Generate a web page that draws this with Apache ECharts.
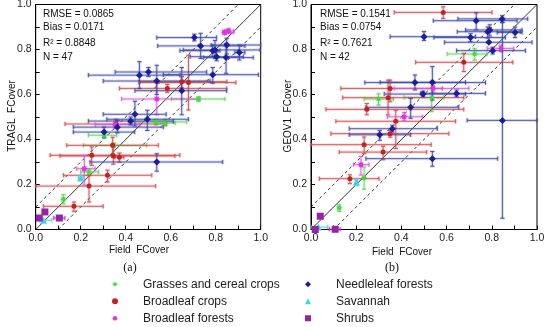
<!DOCTYPE html>
<html><head><meta charset="utf-8">
<script src="https://cdn.jsdelivr.net/npm/echarts@6/dist/echarts.min.js"></script>
<style>html,body{margin:0;padding:0;background:#fff}#c{width:550px;height:327px}</style>
</head><body><div id="c"></div>
<script>
// Each point: [x, y, xLow, xHigh, yLow, yHigh]
const categories = ['Grasses and cereal crops','Broadleaf crops','Broadleaf forests','Needleleaf forests','Savannah','Shrubs'];
const tickLabels = ['0.0','0.2','0.4','0.6','0.8','1.0'];
const statsA = ['RMSE = 0.0865','Bias = 0.0171','R\u00b2 = 0.8848','N = 47'];
const statsB = ['RMSE = 0.1541','Bias = 0.0754','R\u00b2 = 0.7621','N = 42'];
const oneToOne = [[0,0],[1,1]];
const upperBound = [[0,0.1],[0.9,1]];
const lowerBound = [[0.1,0],[1,0.9]];

// ---- (a) TRAGL
const tragl_grasses = [
  [0.723,0.580,0.604,0.841,0.570,0.590],
  [0.535,0.478,0.412,0.671,0.465,0.490],
  [0.575,0.473,0.530,0.620,0.460,0.490],
  [0.304,0.419,0.234,0.360,0.405,0.430],
  [0.347,0.374,0.212,0.493,0.364,0.384],
  [0.237,0.256,0.200,0.280,0.240,0.270],
  [0.123,0.134,0.118,0.128,0.115,0.155]
];
const tragl_bcrops = [
  [0.585,0.627,0.372,0.849,0.610,0.645],
  [0.649,0.657,0.460,0.850,0.630,0.680],
  [0.679,0.653,0.460,0.890,0.531,0.775],
  [0.357,0.469,0.130,0.582,0.450,0.490],
  [0.342,0.374,0.138,0.545,0.335,0.410],
  [0.249,0.330,0.064,0.641,0.285,0.367],
  [0.345,0.327,0.108,0.619,0.290,0.370],
  [0.372,0.321,0.352,0.392,0.300,0.340],
  [0.319,0.241,0.123,0.516,0.211,0.264],
  [0.237,0.193,0.000,0.533,0.122,0.241],
  [0.170,0.103,0.034,0.300,0.081,0.122]
];
const tragl_bforests = [
  [0.840,0.876,0.830,0.880,0.866,0.886],
  [0.857,0.882,0.845,0.880,0.872,0.892],
  [0.538,0.580,0.382,0.730,0.510,0.650],
  [0.353,0.466,0.264,0.464,0.450,0.480],
  [0.216,0.270,0.182,0.264,0.196,0.330]
];
const tragl_needle = [
  [0.705,0.853,0.538,0.804,0.838,0.868],
  [0.733,0.816,0.542,0.930,0.760,0.872],
  [0.787,0.795,0.641,0.819,0.770,0.820],
  [0.797,0.798,0.656,0.997,0.760,0.840],
  [0.849,0.820,0.780,1.000,0.780,0.850],
  [0.905,0.787,0.885,0.930,0.753,0.820],
  [0.804,0.768,0.686,0.923,0.750,0.790],
  [0.846,0.764,0.745,0.967,0.694,0.827],
  [0.787,0.688,0.567,0.990,0.650,0.720],
  [0.461,0.686,0.234,0.641,0.627,0.746],
  [0.501,0.700,0.353,0.760,0.680,0.720],
  [0.538,0.660,0.300,0.775,0.600,0.730],
  [0.649,0.617,0.441,0.849,0.510,0.720],
  [0.441,0.512,0.300,0.580,0.460,0.570],
  [0.496,0.490,0.316,0.679,0.440,0.530],
  [0.422,0.482,0.234,0.612,0.465,0.500],
  [0.363,0.455,0.167,0.567,0.430,0.485],
  [0.304,0.433,0.167,0.440,0.410,0.455],
  [0.538,0.300,0.241,0.831,0.259,0.337]
];
const tragl_savannah = [
  [0.200,0.229,0.190,0.210,0.220,0.240],
  [0.034,0.041,0.016,0.071,0.036,0.046]
];
const tragl_shrubs = [
  [0.041,0.078,0.041,0.041,0.078,0.078],
  [0.016,0.051,0.016,0.016,0.051,0.051],
  [0.105,0.051,0.080,0.130,0.051,0.051]
];

// ---- (b) GEOV1
const geov1_grasses = [
  [0.724,0.780,0.603,0.779,0.753,0.805],
  [0.534,0.587,0.412,0.588,0.524,0.655],
  [0.299,0.580,0.235,0.365,0.553,0.603],
  [0.235,0.230,0.230,0.240,0.179,0.278],
  [0.125,0.096,0.120,0.130,0.080,0.110]
];
const geov1_bcrops = [
  [0.585,0.965,0.368,0.801,0.938,0.990],
  [0.676,0.743,0.463,0.893,0.702,0.783],
  [0.350,0.627,0.132,0.581,0.568,0.664],
  [0.341,0.586,0.140,0.676,0.509,0.664],
  [0.247,0.534,0.066,0.676,0.510,0.560],
  [0.375,0.481,0.110,0.640,0.360,0.530],
  [0.350,0.426,0.088,0.610,0.410,0.440],
  [0.235,0.377,0.000,0.532,0.337,0.411],
  [0.319,0.344,0.125,0.512,0.310,0.370],
  [0.172,0.226,0.037,0.301,0.204,0.243]
];
const geov1_bforests = [
  [0.841,0.805,0.780,0.897,0.790,0.820],
  [0.540,0.627,0.368,0.699,0.610,0.640],
  [0.412,0.501,0.338,0.493,0.485,0.520],
  [0.221,0.288,0.188,0.257,0.242,0.325]
];
const geov1_needle = [
  [0.731,0.928,0.541,0.912,0.887,0.963],
  [0.846,0.936,0.650,0.959,0.920,0.950],
  [0.782,0.879,0.647,0.926,0.850,0.900],
  [0.791,0.887,0.684,0.934,0.860,0.910],
  [0.903,0.876,0.824,0.934,0.853,0.900],
  [0.500,0.857,0.350,0.728,0.840,0.880],
  [0.706,0.853,0.544,0.860,0.835,0.870],
  [0.787,0.832,0.591,0.978,0.832,0.832],
  [0.804,0.795,0.644,0.949,0.780,0.810],
  [0.460,0.653,0.238,0.772,0.620,0.687],
  [0.537,0.654,0.306,0.684,0.575,0.724],
  [0.496,0.602,0.324,0.684,0.590,0.615],
  [0.644,0.605,0.485,0.772,0.590,0.620],
  [0.441,0.543,0.243,0.654,0.494,0.583],
  [0.360,0.448,0.169,0.559,0.433,0.463],
  [0.304,0.421,0.169,0.441,0.396,0.440],
  [0.537,0.315,0.243,0.826,0.281,0.347],
  [0.847,0.485,0.691,1.000,0.050,0.920]
];
const geov1_savannah = [
  [0.201,0.211,0.196,0.206,0.195,0.225],
  [0.032,0.011,0.000,0.074,0.011,0.011]
];
const geov1_shrubs = [
  [0.041,0.059,0.041,0.041,0.059,0.059],
  [0.019,0.000,0.019,0.019,0.000,0.000],
  [0.107,0.001,0.081,0.129,0.001,0.001]
];

const plotData = [
  [tragl_grasses, tragl_bcrops, tragl_bforests, tragl_needle, tragl_savannah, tragl_shrubs],
  [geov1_grasses, geov1_bcrops, geov1_bforests, geov1_needle, geov1_savannah, geov1_shrubs]
];

function starPath(n, r1, r2){
  let s = 'path://';
  for (let i = 0; i < 2*n; i++){
    const a = i*Math.PI/n - Math.PI/2, r = (i%2) ? r2 : r1;
    s += (i ? 'L' : 'M') + (50 + r*Math.cos(a)).toFixed(2) + ' ' + (50 + r*Math.sin(a)).toFixed(2);
  }
  return s + 'Z';
}
const colors = ['#3ddc3d','#c42222','#e034e0','#1c1c9e','#3cd6e0','#9622a8'];
const barColors = ['#55d855','#d04848','#dd55dd','#3c46a8','#55d0dc','#a040b0'];
const symbols = [starPath(8,50,22), 'circle', starPath(8,50,30), 'diamond', 'triangle', 'rect'];
const sizes = [7,5,7,7,7,7];
const FONT = 'Liberation Sans, Arial, sans-serif';

const gridDefs = [
  {left: 35.7, top: 4.5, width: 225, height: 225},
  {left: 311, top: 4.5, width: 226, height: 225}
];

function axisCommon(){
  return {
    min: 0, max: 1, interval: 0.2,
    axisLine: {show: true, onZero: false, lineStyle: {color: '#000', width: 1}},
    axisTick: {show: true, inside: true, length: 4, lineStyle: {color: '#000'}},
    minorTick: {show: true, splitNumber: 2, length: 4, lineStyle: {color: '#000'}},
    splitLine: {show: false},
    axisLabel: {color: '#222', fontSize: 10.5, fontFamily: FONT,
      formatter: v => tickLabels[Math.round(v/0.2)] || ''}
  };
}

const series = [];
for (let p = 0; p < 2; p++){
  series.push({type:'line', xAxisIndex:p, yAxisIndex:p, data: oneToOne, symbol:'none', silent:true,
    lineStyle:{color:'#000', width:0.8}, z:1});
  series.push({type:'line', xAxisIndex:p, yAxisIndex:p, data: upperBound, symbol:'none', silent:true,
    lineStyle:{color:'#000', width:0.8, type:[3,3]}, z:1});
  series.push({type:'line', xAxisIndex:p, yAxisIndex:p, data: lowerBound, symbol:'none', silent:true,
    lineStyle:{color:'#000', width:0.8, type:[3,3]}, z:1});
  for (let c = 0; c < 6; c++){
    const col = barColors[c];
    series.push({
      type:'custom', xAxisIndex:p, yAxisIndex:p, z:2, silent:true,
      encode:{x:0, y:1},
      data: plotData[p][c],
      renderItem: function(params, api){
        const x = api.value(0), y = api.value(1);
        const xl = api.value(2), xh = api.value(3), yl = api.value(4), yh = api.value(5);
        const cap = 2.2, ch = [];
        const halo = {stroke: col, lineWidth: 3, opacity: 0.18};
        const main = {stroke: col, lineWidth: 1, opacity: 0.85};
        function seg(x1,y1,x2,y2){
          ch.push({type:'line', shape:{x1,y1,x2,y2}, style: halo});
          ch.push({type:'line', shape:{x1,y1,x2,y2}, style: main});
        }
        if (xh > xl){
          const a = api.coord([xl,y]), b = api.coord([xh,y]);
          seg(a[0],a[1],b[0],b[1]);
          seg(a[0],a[1]-cap,a[0],a[1]+cap);
          seg(b[0],b[1]-cap,b[0],b[1]+cap);
        }
        if (yh > yl){
          const a = api.coord([x,yl]), b = api.coord([x,yh]);
          seg(a[0],a[1],b[0],b[1]);
          seg(a[0]-cap,a[1],a[0]+cap,a[1]);
          seg(b[0]-cap,b[1],b[0]+cap,b[1]);
        }
        return {type:'group', children: ch};
      }
    });
    series.push({
      type:'scatter', name: categories[c], xAxisIndex:p, yAxisIndex:p, z:3,
      symbol: symbols[c], symbolSize: sizes[c],
      itemStyle:{color: colors[c], opacity: 1},
      data: plotData[p][c].map(d => [d[0], d[1]])
    });
  }
}

const texts = [];
statsA.forEach((t,i) => texts.push({type:'text', left: 43, top: [9,22.5,38.5,52][i],
  style:{text:t, font:'10px '+FONT, fill:'#111'}}));
statsB.forEach((t,i) => texts.push({type:'text', left: 320, top: [9,22.5,38.5,52][i],
  style:{text:t, font:'10px '+FONT, fill:'#111'}}));
texts.push({type:'text', x: 139, y: 250.5, style:{text:'Field  FCover', font:'10px '+FONT, fill:'#111', align:'center', verticalAlign:'middle'}});
texts.push({type:'text', x: 402, y: 252, style:{text:'Field  FCover', font:'10px '+FONT, fill:'#111', align:'center', verticalAlign:'middle'}});
texts.push({type:'text', x: 130, y: 268, style:{text:'(a)', font:'12px Liberation Serif, Times New Roman, serif', fill:'#111', align:'center', verticalAlign:'middle'}});
texts.push({type:'text', x: 392, y: 268, style:{text:'(b)', font:'12px Liberation Serif, Times New Roman, serif', fill:'#111', align:'center', verticalAlign:'middle'}});
texts.push({type:'text', x: 12, y: 116, rotation: Math.PI/2, style:{text:'TRAGL  FCover', font:'10px '+FONT, fill:'#111', align:'center', verticalAlign:'middle'}});
texts.push({type:'text', x: 288, y: 116, rotation: Math.PI/2, style:{text:'GEOV1  FCover', font:'10px '+FONT, fill:'#111', align:'center', verticalAlign:'middle'}});

const legendCommon = {orient:'vertical', itemWidth:6, itemHeight:6, itemGap:1.5, selectedMode:false,
  padding:0, textStyle:{fontSize:12, fontFamily:FONT, color:'#222', lineHeight:15.5, padding:[0,0,0,20]}};

function legendData(idx){
  return idx.map(c => ({name:categories[c], icon:symbols[c], itemStyle:{color:colors[c]}}));
}

const chart = echarts.init(document.getElementById('c'), null, {renderer:'canvas'});
chart.setOption({
  animation: false,
  backgroundColor: '#fff',
  grid: gridDefs.map(g => Object.assign({show:true, borderColor:'#000', borderWidth:1, outerBoundsMode:'none', containLabel:false}, g)),
  xAxis: [0,1].map(i => Object.assign(axisCommon(), {gridIndex:i, axisLabel:Object.assign(axisCommon().axisLabel, {margin:3})})),
  yAxis: [0,1].map(i => Object.assign(axisCommon(), {gridIndex:i, axisLabel:Object.assign(axisCommon().axisLabel, {margin:4})})),
  legend: [
    Object.assign({left: 112, top: 276.5, data: legendData([0,1,2])}, legendCommon),
    Object.assign({left: 305, top: 276.5, data: legendData([3,4,5])}, legendCommon)
  ],
  graphic: texts,
  series: series
});
</script></body></html>
